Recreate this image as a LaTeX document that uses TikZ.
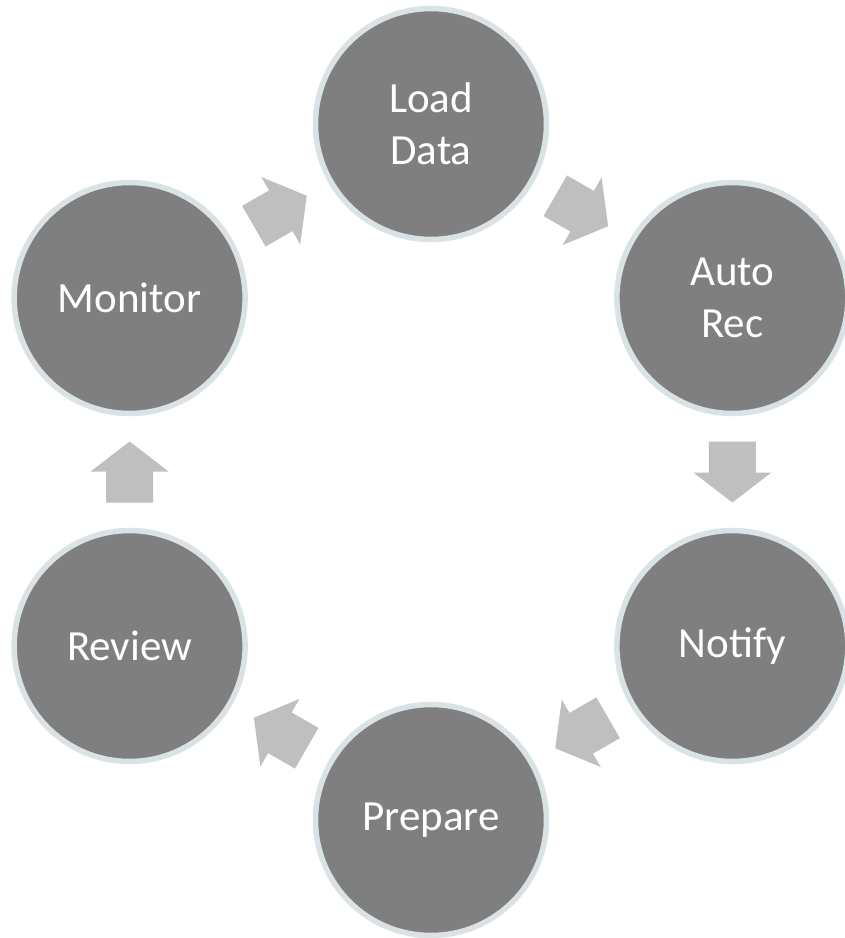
\documentclass[tikz,border=0pt]{standalone}
\usepackage{fontspec}
\setmainfont{Carlito}
\usetikzlibrary{calc}

\begin{document}
\begin{tikzpicture}[x=1pt,y=1pt,
    stage/.style={circle, draw=ringgray, line width=5.5pt, fill=discgray,
        minimum size=231pt, inner sep=0pt, text=white, align=center,
        font=\fontsize{43}{52}\selectfont},
    flow/.style={fill=arrowgray}]
    \definecolor{discgray}{HTML}{7F7F7F}
    \definecolor{ringgray}{HTML}{DAE2E5}
    \definecolor{arrowgray}{HTML}{BFBFBF}
    \useasboundingbox (-431,-466) rectangle (414,472);

    \node[stage] (load) at (90:348) {Load\\Data};
    \node[stage] (auto) at (30:348) {Auto\\Rec};
    \node[stage] (notify) at (-30:348) {Notify};
    \node[stage] (prepare) at (-90:348) {Prepare};
    \node[stage] (review) at (210:348) {Review};
    \node[stage] (monitor) at (150:348) {Monitor};

    \foreach \a/\b/\r in {monitor/load/30, load/auto/-30, auto/notify/-90,
        notify/prepare/-150, prepare/review/150, review/monitor/90} {
        \coordinate (mid) at ($(\a)!0.5!(\b)$);
        \begin{scope}[shift={(mid)}, rotate=\r]
            \fill[flow] (-30.5,-23.5) -- (0.5,-23.5) -- (0.5,-39) -- (30.5,0)
                -- (0.5,39) -- (0.5,23.5) -- (-30.5,23.5) -- cycle;
        \end{scope}
    }
\end{tikzpicture}
\end{document}
